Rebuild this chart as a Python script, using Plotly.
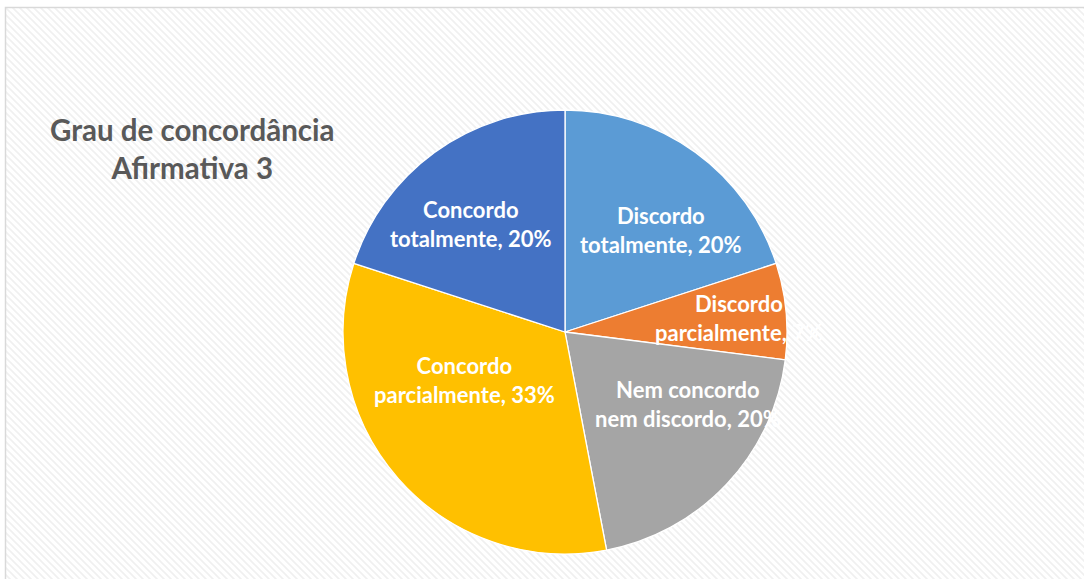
import math
import base64
import plotly.graph_objects as go

# ---- data ----
categories = ["Discordo totalmente", "Discordo parcialmente", "Nem concordo nem discordo",
              "Concordo parcialmente", "Concordo totalmente"]
label_lines = [("Discordo", "totalmente"), ("Discordo", "parcialmente"),
               ("Nem concordo", "nem discordo"), ("Concordo", "parcialmente"),
               ("Concordo", "totalmente")]
values = [20, 7, 20, 33, 20]
colors = ["#5B9BD5", "#ED7D31", "#A5A5A5", "#FFC000", "#4472C4"]
title_lines = ["Grau de concordância", "Afirmativa 3"]

# label placement (angle shift from slice middle in degrees, radius fraction)
label_shift = [7.4, 0.8, -12.9, 15.9, -5.0]
label_radius = [0.63, 0.786, 0.642, 0.50, 0.645]

W, H = 1084, 579
cx, cy, R = 565, 332, 222  # pie centre / radius in pixels

FONT = "Lato, 'Open Sans', sans-serif"

fig = go.Figure()
fig.add_trace(go.Pie(
    labels=categories, values=values, sort=False, direction="clockwise", rotation=0,
    marker=dict(colors=colors, line=dict(color="white", width=1.3)),
    textinfo="none", hoverinfo="label+percent", showlegend=False,
    domain=dict(x=[(cx - R) / W, (cx + R) / W], y=[(H - cy - R) / H, (H - cy + R) / H]),
))

total = sum(values)
annotations = []
cum = 0.0
for i, v in enumerate(values):
    start = cum / total * 360
    cum += v
    end = cum / total * 360
    theta = math.radians((start + end) / 2 + label_shift[i])
    r = label_radius[i] * R
    px = cx + r * math.sin(theta)
    py = cy - r * math.cos(theta)
    pct = round(v / total * 100)
    l1, l2 = label_lines[i]
    annotations.append(dict(
        x=px / W, y=1 - py / H, xref="paper", yref="paper",
        text=f"<b>{l1}<br>{l2}, {pct}%</b>", showarrow=False,
        font=dict(family=FONT, size=22, color="white"),
        xanchor="center", yanchor="middle", align="center",
    ))

annotations.append(dict(
    x=192 / W, y=1 - 148 / H, xref="paper", yref="paper",
    text="<b>" + "<br>".join(title_lines) + "</b>", showarrow=False,
    font=dict(family=FONT, size=29.5, color="#595959"),
    xanchor="center", yanchor="middle", align="center",
))

# faint diagonal hatch background
svg = ('<svg xmlns="http://www.w3.org/2000/svg" width="1084" height="579">'
       '<defs><pattern id="p" width="7" height="7" patternUnits="userSpaceOnUse">'
       '<path d="M-1,-1 L8,8 M-1,6 L1,8 M6,-1 L8,1" stroke="#f0f0f0" stroke-width="1.6"/>'
       '</pattern></defs><rect width="1084" height="579" fill="url(#p)"/></svg>')
src = "data:image/svg+xml;base64," + base64.b64encode(svg.encode()).decode()

fig.update_layout(
    width=W, height=H, margin=dict(l=0, r=0, t=0, b=0),
    paper_bgcolor="white", plot_bgcolor="white",
    annotations=annotations,
    images=[dict(source=src, xref="paper", yref="paper", x=6 / W, y=1 - 8 / H,
                 sizex=1, sizey=1, xanchor="left", yanchor="top",
                 sizing="stretch", layer="below")],
    shapes=[dict(type="rect", xref="paper", yref="paper",
                 x0=5.5 / W, x1=1.02, y0=-0.02, y1=1 - 7.5 / H,
                 line=dict(color="#d9d9d9", width=1.5), layer="above")],
)

fig.write_html("out.html")
